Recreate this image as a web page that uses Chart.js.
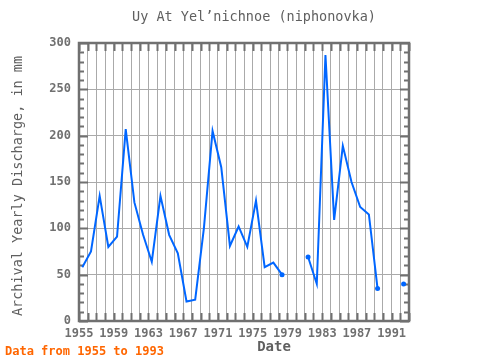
<!DOCTYPE html>
<html>
<head>
<meta charset="utf-8">
<title>Uy At Yel'nichnoe (niphonovka)</title>
<style>
  html, body { margin: 0; padding: 0; background: #fff; }
  #wrap { width: 480px; height: 360px; }
</style>
<script src="https://cdn.jsdelivr.net/npm/chart.js@4"></script>
</head>
<body>
<div id="wrap"><canvas id="chart" width="480" height="360"></canvas></div>
<script>
  // ── Data ─────────────────────────────────────────────
  const YEARS = [1955, 1956, 1957, 1958, 1959, 1960, 1961, 1962, 1963, 1964,
                 1965, 1966, 1967, 1968, 1969, 1970, 1971, 1972, 1973, 1974,
                 1975, 1976, 1977, 1978, 1979, 1980, 1981, 1982, 1983, 1984,
                 1985, 1986, 1987, 1988, 1989, 1990, 1991, 1992];
  const DISCHARGE = [58, 75, 135, 80, 91, 207, 128, 93, 64, 135,
                     93, 73, 21, 23, 100, 205, 166, 81, 102, 80,
                     130, 58, 63, 50, null, null, 69, 40, 287, 109,
                     189, 150, 123, 115, 35, null, null, 40];
  const X_TICK_LABELS = ['1955', '1959', '1963', '1967', '1971', '1975', '1979', '1983', '1987', '1991'];
  const Y_TICK_LABELS = ['0', '50', '100', '150', '200', '250', '300'];

  // values are dated a little after Jan 1 of each year
  const X_OFFSET = 0.38;

  const AXIS_GREY = '#707070';
  const GRID_GREY = '#aaaaaa';
  const TEXT_GREY = '#606060';
  const MONO = "'DejaVu Sans Mono', monospace";

  // ── Frame, inner ticks and free text ────────────────
  const framePlugin = {
    id: 'frame',
    beforeDatasetsDraw(chart) {
      const { ctx, chartArea: a, scales } = chart;
      ctx.save();
      ctx.strokeStyle = AXIS_GREY;
      ctx.lineWidth = 2;
      ctx.beginPath();
      for (let yr = 1955; yr <= 1993; yr++) {
        const x = Math.round(scales.x.getPixelForValue(yr)) + 0.5;
        ctx.moveTo(x, a.bottom); ctx.lineTo(x, a.bottom - 8);
        ctx.moveTo(x, a.top); ctx.lineTo(x, a.top + 8);
      }
      for (let v = 0; v <= 300; v += 10) {
        const y = Math.round(scales.y.getPixelForValue(v)) + 0.5;
        const len = v % 50 === 0 ? 9 : 5;
        ctx.moveTo(a.left, y); ctx.lineTo(a.left + len, y);
        ctx.moveTo(a.right, y); ctx.lineTo(a.right - len, y);
      }
      ctx.stroke();
      ctx.lineWidth = 2.5;
      ctx.strokeRect(a.left, a.top, a.right - a.left, a.bottom - a.top);
      ctx.restore();
    },
    afterDraw(chart) {
      const { ctx, chartArea: a } = chart;
      ctx.save();
      ctx.textBaseline = 'middle';
      ctx.textAlign = 'center';
      ctx.fillStyle = TEXT_GREY;
      ctx.font = '13.5px ' + MONO;
      ctx.fillText('Uy At Yel\u2019nichnoe (niphonovka)', 254, 17);

      ctx.save();
      ctx.translate(18, (a.top + a.bottom) / 2 + 4);
      ctx.rotate(-Math.PI / 2);
      ctx.fillText('Archival Yearly Discharge, in mm', 0, 0);
      ctx.restore();

      ctx.font = 'bold 14px ' + MONO;
      ctx.fillText('Date', (a.left + a.right) / 2 + 30, 347);

      ctx.textAlign = 'left';
      ctx.fillStyle = '#ff6600';
      ctx.font = 'bold 12px ' + MONO;
      ctx.fillText('Data from 1955 to 1993', 5, 352);
      ctx.restore();
    }
  };

  // ── Chart ────────────────────────────────────────────
  const points = YEARS.map((yr, i) => ({ x: yr + X_OFFSET, y: DISCHARGE[i] }));

  function isSegmentEnd(ctx) {
    const i = ctx.dataIndex;
    return DISCHARGE[i - 1] === null || DISCHARGE[i + 1] === null;
  }

  new Chart(document.getElementById('chart').getContext('2d'), {
    type: 'line',
    data: {
      datasets: [{
        data: points,
        borderColor: '#0066ff',
        backgroundColor: '#0066ff',
        borderWidth: 2,
        tension: 0,
        spanGaps: false,
        pointRadius: (ctx) => (isSegmentEnd(ctx) ? 2.5 : 0),
        pointBorderWidth: 0,
        pointBackgroundColor: '#0066ff',
      }],
    },
    options: {
      responsive: false,
      animation: false,
      devicePixelRatio: 1,
      layout: { padding: { top: 43, right: 71, bottom: 0, left: 0 } },
      plugins: {
        legend: { display: false },
        tooltip: { enabled: false },
        title: { display: false },
      },
      scales: {
        x: {
          type: 'linear',
          min: 1955,
          max: 1993,
          afterFit: (s) => { s.height = 39; },
          grid: { color: GRID_GREY, lineWidth: 1, drawTicks: false },
          border: { display: false },
          ticks: {
            stepSize: 1,
            autoSkip: false,
            maxRotation: 0,
            padding: 6,
            color: AXIS_GREY,
            font: { family: MONO, size: 12, weight: 'bold' },
            callback: (v) => (X_TICK_LABELS.includes(String(v)) ? String(v) : ''),
          },
        },
        y: {
          min: 0,
          max: 300,
          afterFit: (s) => { s.width = 79; },
          grid: {
            color: (c) => (c.tick && c.tick.value % 50 === 0 ? GRID_GREY : 'transparent'),
            lineWidth: 1,
            drawTicks: false,
          },
          border: { display: false },
          ticks: {
            stepSize: 10,
            autoSkip: false,
            padding: 8,
            color: AXIS_GREY,
            font: { family: MONO, size: 12, weight: 'bold' },
            callback: (v) => (Y_TICK_LABELS.includes(String(v)) ? String(v) : ''),
          },
        },
      },
    },
    plugins: [framePlugin],
  });
</script>
</body>
</html>
